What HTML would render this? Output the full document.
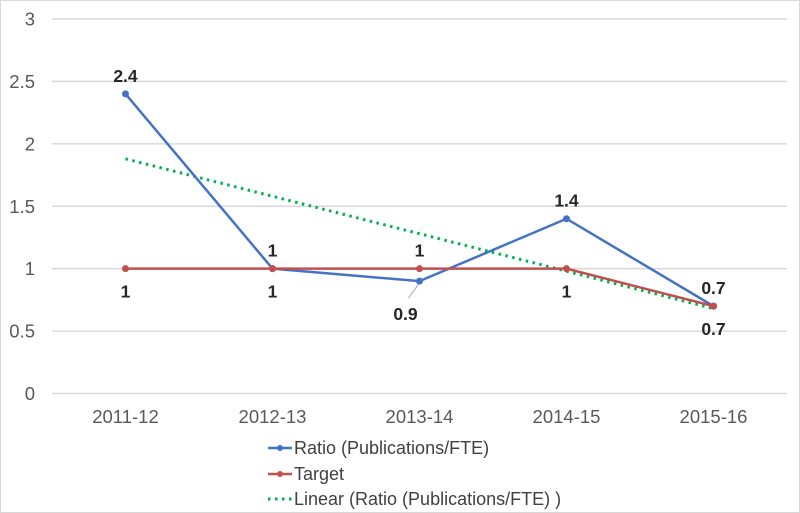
<!DOCTYPE html>
<html><head><meta charset="utf-8"><style>
body{margin:0;background:#fff}
svg{display:block;font-family:"Liberation Sans",sans-serif}
</style></head><body>
<svg width="800" height="513">
<rect x="0.5" y="0.5" width="799" height="512" fill="#fff" stroke="#d9d9d9"/>
<g id="grid"></g><g id="axes"></g><g id="marks"></g><g id="labels"></g>
<g font-size="18" fill="#404040">
<g><line x1="268" y1="448" x2="292" y2="448" stroke="#4472c4" stroke-width="2.5"/><circle cx="280" cy="448" r="3" fill="#4472c4"/><text x="294" y="454">Ratio (Publications/FTE)</text></g>
<g><line x1="268" y1="474" x2="292" y2="474" stroke="#c0504d" stroke-width="2.5"/><circle cx="280" cy="474" r="3" fill="#c0504d"/><text x="294" y="480">Target</text></g>
<g><line x1="268" y1="499" x2="292" y2="499" stroke="#00b050" stroke-width="3" stroke-dasharray="2.5 4.5"/><text x="294" y="505">Linear (Ratio (Publications/FTE) )</text></g>
</g>
</svg>
<script>
const categories=["2011-12","2012-13","2013-14","2014-15","2015-16"];
const ratioValues=[2.4,1,0.9,1.4,0.7];
const targetValues=[1,1,1,1,0.7];
const yTicks=[0,0.5,1,1.5,2,2.5,3];
const ratioLabelPos=["above","above","below-left","above","above"];
const targetLabelPos=["below","below","above","below","below"];
const NS="http://www.w3.org/2000/svg";
const plotLeft=52,plotRight=787,yMin=0,yMax=3,plotTop=19,plotBottom=393.5;
const band=(plotRight-plotLeft)/categories.length;
const xs=i=>plotLeft+band*(i+0.5);
const ys=v=>plotBottom-(v-yMin)/(yMax-yMin)*(plotBottom-plotTop);
function mk(tag,attrs,parent,text){const e=document.createElementNS(NS,tag);for(const k in attrs)e.setAttribute(k,attrs[k]);if(text!==undefined)e.textContent=text;document.getElementById(parent).appendChild(e);return e;}
yTicks.forEach(t=>{
  const g=mk('line',{x1:plotLeft,x2:plotRight,y1:ys(t),y2:ys(t),stroke:'#d9d9d9','stroke-width':1.5},'grid');
  
  
  const l=mk('text',{x:35,y:ys(t)+6.5,'text-anchor':'end','font-size':18.5,fill:'#595959'},'axes',String(t));
  
  
});
categories.forEach((c,i)=>{
  const l=mk('text',{x:xs(i),y:423,'text-anchor':'middle','font-size':18.5,fill:'#595959'},'axes',c);
  
  
});
const n=ratioValues.length;let mx=0,my=0;ratioValues.forEach((v,i)=>{mx+=i;my+=v});mx/=n;my/=n;
let sxy=0,sxx=0;ratioValues.forEach((v,i)=>{sxy+=(i-mx)*(v-my);sxx+=(i-mx)*(i-mx)});
const slope=sxy/sxx,icpt=my-slope*mx;
const tl=mk('line',{x1:xs(0),y1:ys(icpt),x2:xs(n-1),y2:ys(icpt+slope*(n-1)),stroke:'#00b050','stroke-width':3,'stroke-dasharray':'2.5 4.5'},'marks');


function series(vals,color,name,pos){
  const p=mk('polyline',{points:vals.map((v,i)=>xs(i)+','+ys(v)).join(' '),fill:'none',stroke:color,'stroke-width':2.5},'marks');
  
  
  vals.forEach((v,i)=>{
    const c=mk('circle',{cx:xs(i),cy:ys(v),r:3.5,fill:color},'marks');
    
    
    let lx=xs(i),ly;
    if(pos[i]==='above')ly=ys(v)-12;
    else if(pos[i]==='below')ly=ys(v)+29;
    else{lx=xs(i)-14;ly=ys(v)+39;
      const ld=mk('line',{x1:xs(i)-1,y1:ys(v)+3,x2:xs(i)-11,y2:ys(v)+17,stroke:'#a6a6a6','stroke-width':1},'labels');
      
      }
    const t=mk('text',{x:lx,y:ly,'text-anchor':'middle','font-size':17.5,'font-weight':'bold',fill:'#262626'},'labels',String(v));
    
    
  });
}
series(ratioValues,'#4472c4','ratio',ratioLabelPos);
series(targetValues,'#c0504d','target',targetLabelPos);
</script>
</body></html>
